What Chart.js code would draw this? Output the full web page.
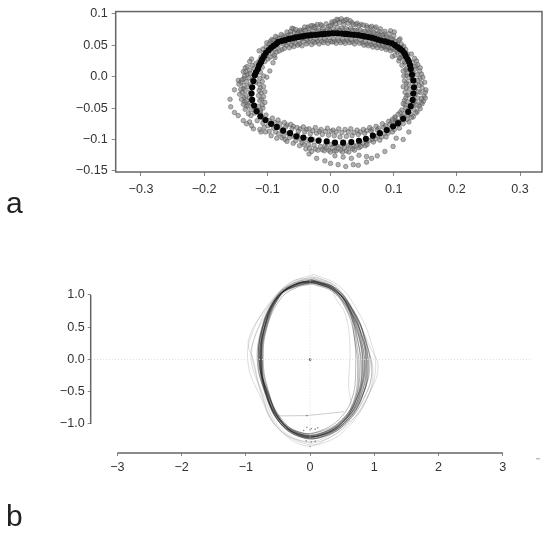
<!DOCTYPE html>
<html>
<head>
<meta charset="utf-8">
<script src="https://cdn.jsdelivr.net/npm/chart.js@4/dist/chart.umd.min.js"></script>
<style>
body { margin: 0; background: #fff; width: 550px; height: 539px; position: relative; overflow: hidden; }
canvas { position: absolute; left: 0; filter: blur(0.5px); }
#chartA { top: 0; }
#chartB { top: 250px; }
.letter { position: absolute; left: 6px; font: 30px "Liberation Sans", sans-serif; color: #222; line-height: 30px; }
</style>
</head>
<body>
<canvas id="chartA" width="550" height="220"></canvas>
<canvas id="chartB" width="550" height="289"></canvas>
<div class="letter" style="top:188px">a</div>
<div class="letter" style="top:501px">b</div>
<script>
// panel a ticks
const xTicksA = [-0.3, -0.2, -0.1, 0, 0.1, 0.2, 0.3];
const xLabelsA = ['\u22120.3', '\u22120.2', '\u22120.1', '0.0', '0.1', '0.2', '0.3'];
const yTicksA = [0.1, 0.05, 0, -0.05, -0.1, -0.15];
const yLabelsA = ['0.1', '0.05', '0.0', '\u22120.05', '\u22120.1', '\u22120.15'];

// panel a: mean outline (black dots)
const meanOutline = [
  [0.02,-0.105],[0.007,-0.105],[-0.006,-0.103],[-0.019,-0.102],[-0.031,-0.1],[-0.043,-0.097],[-0.054,-0.095],[-0.064,-0.09],
  [-0.075,-0.086],[-0.085,-0.08],[-0.094,-0.075],[-0.103,-0.069],[-0.111,-0.063],[-0.117,-0.055],[-0.121,-0.046],[-0.124,-0.037],
  [-0.125,-0.027],[-0.124,-0.017],[-0.122,-0.007],[-0.12,0.002],[-0.118,0.007],[-0.115,0.012],[-0.113,0.018],[-0.11,0.023],[-0.108,0.028],
  [-0.105,0.033],[-0.102,0.038],[-0.098,0.042],[-0.094,0.046],[-0.09,0.049],[-0.086,0.052],[-0.083,0.055],[-0.077,0.057],[-0.072,0.058],
  [-0.066,0.06],[-0.061,0.061],[-0.056,0.062],[-0.051,0.063],[-0.045,0.064],[-0.04,0.065],[-0.035,0.0655],[-0.03,0.066],[-0.024,0.0665],
  [-0.019,0.067],[-0.014,0.0675],[-0.009,0.068],[-0.003,0.0685],[0.002,0.069],[0.007,0.069],[0.012,0.069],[0.018,0.0685],[0.023,0.068],
  [0.028,0.0675],[0.033,0.067],[0.038,0.0665],[0.044,0.066],[0.049,0.065],[0.054,0.064],[0.06,0.063],[0.065,0.062],[0.07,0.0605],
  [0.075,0.059],[0.08,0.0575],[0.086,0.056],[0.091,0.0545],[0.097,0.053],[0.102,0.05],[0.106,0.047],[0.11,0.044],[0.114,0.041],[0.117,0.037],
  [0.119,0.033],[0.122,0.028],[0.124,0.024],[0.126,0.018],[0.127,0.012],[0.129,0.003],[0.131,-0.006],[0.132,-0.017],[0.131,-0.027],
  [0.13,-0.037],[0.127,-0.047],[0.123,-0.056],[0.115,-0.067],[0.107,-0.074],[0.099,-0.079],[0.089,-0.085],[0.078,-0.09],[0.067,-0.094],
  [0.056,-0.099],[0.045,-0.102],[0.033,-0.104]
];

// panel a: individual landmarks (grey dots), by region
const cloudTop = [
  [-0.112,0.02],[-0.11,0.031],[-0.113,0.041],[-0.104,0.024],[-0.106,0.037],[-0.102,0.047],[-0.101,0.054],[-0.096,0.031],[-0.097,0.052],[-0.093,0.059],
  [-0.089,0.034],[-0.088,0.044],[-0.09,0.058],[-0.087,0.064],[-0.081,0.041],[-0.083,0.049],[-0.08,0.061],[-0.078,0.067],[-0.073,0.045],[-0.075,0.052],
  [-0.071,0.063],[-0.069,0.071],[-0.065,0.046],[-0.067,0.054],[-0.063,0.067],[-0.061,0.077],[-0.058,0.048],[-0.06,0.056],[-0.057,0.07],[-0.055,0.075],
  [-0.052,0.05],[-0.05,0.057],[-0.053,0.068],[-0.048,0.074],[-0.045,0.049],[-0.043,0.056],[-0.046,0.071],[-0.041,0.079],[-0.038,0.052],[-0.037,0.059],
  [-0.04,0.073],[-0.034,0.077],[-0.031,0.081],[-0.03,0.051],[-0.032,0.06],[-0.028,0.073],[-0.025,0.054],[-0.023,0.06],[-0.026,0.078],[-0.021,0.083],
  [-0.018,0.052],[-0.016,0.061],[-0.019,0.074],[-0.014,0.081],[-0.011,0.054],[-0.009,0.06],[-0.012,0.077],[-0.007,0.084],[-0.004,0.053],[-0.002,0.062],
  [-0.005,0.075],[0,0.081],[0.002,0.087],[0.003,0.055],[0.005,0.06],[0.004,0.076],[0.008,0.084],[0.01,0.091],[0.009,0.053],[0.012,0.061],
  [0.011,0.078],[0.014,0.086],[0.017,0.092],[0.016,0.054],[0.019,0.06],[0.018,0.077],[0.021,0.083],[0.023,0.09],[0.023,0.053],[0.026,0.061],
  [0.025,0.076],[0.028,0.085],[0.031,0.089],[0.03,0.054],[0.033,0.059],[0.032,0.077],[0.036,0.083],[0.038,0.052],[0.04,0.06],[0.039,0.074],
  [0.042,0.085],[0.045,0.081],[0.046,0.053],[0.048,0.058],[0.047,0.074],[0.052,0.082],[0.053,0.05],[0.055,0.056],[0.054,0.072],[0.058,0.078],
  [0.06,0.049],[0.062,0.055],[0.061,0.07],[0.065,0.08],[0.067,0.047],[0.069,0.054],[0.068,0.07],[0.072,0.079],[0.074,0.046],[0.076,0.052],
  [0.075,0.068],[0.079,0.076],[0.081,0.045],[0.083,0.05],[0.082,0.066],[0.086,0.072],[0.088,0.043],[0.09,0.048],[0.089,0.063],[0.093,0.068],
  [0.095,0.041],[0.097,0.046],[0.096,0.06],[0.1,0.065],[0.102,0.034],[0.104,0.042],[0.103,0.056],[0.108,0.058],[0.109,0.03],[0.111,0.036],
  [0.112,0.052],[0.116,0.048],[0.117,0.024],[0.119,0.043]
];
const cloudTop2 = [
  [-0.108,0.026],[-0.107,0.044],[-0.099,0.028],[-0.099,0.041],[-0.095,0.056],[-0.092,0.037],[-0.091,0.05],[-0.085,0.039],[-0.085,0.056],[-0.084,0.062],
  [-0.077,0.043],[-0.077,0.055],[-0.075,0.065],[-0.07,0.05],[-0.068,0.058],[-0.067,0.066],[-0.062,0.05],[-0.063,0.072],[-0.056,0.053],[-0.055,0.064],
  [-0.059,0.076],[-0.049,0.052],[-0.048,0.066],[-0.051,0.072],[-0.044,0.06],[-0.043,0.074],[-0.036,0.055],[-0.035,0.07],[-0.036,0.079],[-0.028,0.056],
  [-0.029,0.069],[-0.028,0.081],[-0.021,0.056],[-0.021,0.072],[-0.024,0.08],[-0.014,0.056],[-0.013,0.072],[-0.016,0.083],[-0.007,0.057],[-0.008,0.072],
  [-0.003,0.08],[0,0.056],[-0.001,0.073],[0.003,0.084],[0.006,0.056],[0.007,0.072],[0.006,0.088],[0.013,0.057],[0.014,0.074],[0.012,0.09],
  [0.02,0.056],[0.02,0.074],[0.02,0.088],[0.027,0.057],[0.028,0.074],[0.026,0.091],[0.034,0.055],[0.035,0.074],[0.034,0.086],[0.041,0.056],
  [0.042,0.073],[0.04,0.083],[0.05,0.054],[0.05,0.071],[0.048,0.083],[0.057,0.052],[0.057,0.07],[0.057,0.081],[0.064,0.051],[0.064,0.071],
  [0.063,0.078],[0.071,0.05],[0.071,0.068],[0.07,0.077],[0.078,0.049],[0.078,0.066],[0.077,0.072],[0.085,0.047],[0.085,0.063],[0.085,0.068],
  [0.092,0.045],[0.092,0.061],[0.099,0.043],[0.099,0.059],[0.106,0.039],[0.106,0.053],[0.113,0.032],[0.113,0.047],[0.118,0.038]
];
const cloudRight = [
  [0.108,0.025],[0.118,0.031],[0.128,0.036],[0.133,0.029],[0.113,0.018],[0.121,0.014],[0.13,0.022],[0.138,0.019],[0.115,0.009],[0.122,0.006],
  [0.134,0.012],[0.141,0.009],[0.116,0.001],[0.124,-0.002],[0.137,0.003],[0.146,-0.001],[0.117,-0.007],[0.124,-0.012],[0.138,-0.006],[0.149,-0.009],
  [0.115,-0.016],[0.125,-0.02],[0.14,-0.014],[0.151,-0.021],[0.145,-0.018],[0.118,-0.025],[0.124,-0.029],[0.139,-0.024],[0.148,-0.031],[0.119,-0.034],
  [0.122,-0.04],[0.138,-0.034],[0.15,-0.034],[0.143,-0.041],[0.115,-0.043],[0.119,-0.05],[0.136,-0.045],[0.145,-0.043],[0.113,-0.053],[0.117,-0.059],
  [0.132,-0.052],[0.142,-0.051],[0.107,-0.06],[0.114,-0.064],[0.127,-0.06],[0.135,-0.058],[0.098,-0.068],[0.106,-0.071],[0.121,-0.068],[0.128,-0.065]
];
const cloudRight2 = [
  [0.11,0.029],[0.122,0.036],[0.136,0.025],[0.118,0.022],[0.127,0.017],[0.135,0.016],[0.142,0.014],[0.119,0.011],[0.128,0.008],[0.131,0.005],
  [0.144,0.004],[0.12,0.002],[0.129,-0.003],[0.142,-0.003],[0.12,-0.01],[0.135,-0.011],[0.144,-0.011],[0.12,-0.018],[0.134,-0.02],[0.142,-0.025],
  [0.15,-0.025],[0.121,-0.03],[0.134,-0.028],[0.144,-0.035],[0.117,-0.038],[0.134,-0.04],[0.147,-0.039],[0.118,-0.045],[0.131,-0.044],[0.14,-0.047],
  [0.123,-0.053],[0.137,-0.056],[0.11,-0.057],[0.122,-0.061],[0.131,-0.064],[0.102,-0.064],[0.113,-0.068],[0.124,-0.072]
];
const cloudBottom = [
  [-0.111,-0.057],[-0.107,-0.074],[-0.112,-0.084],[-0.102,-0.061],[-0.099,-0.078],[-0.103,-0.088],[-0.092,-0.066],[-0.09,-0.082],[-0.094,-0.094],[-0.083,-0.069],
  [-0.08,-0.075],[-0.082,-0.091],[-0.085,-0.098],[-0.073,-0.073],[-0.071,-0.08],[-0.074,-0.094],[-0.069,-0.103],[-0.063,-0.076],[-0.061,-0.083],[-0.065,-0.097],
  [-0.059,-0.106],[-0.053,-0.081],[-0.051,-0.087],[-0.055,-0.102],[-0.049,-0.11],[-0.043,-0.08],[-0.041,-0.088],[-0.045,-0.105],[-0.039,-0.115],[-0.034,-0.083],
  [-0.032,-0.091],[-0.035,-0.108],[-0.03,-0.119],[-0.024,-0.081],[-0.022,-0.09],[-0.026,-0.109],[-0.02,-0.117],[-0.015,-0.084],[-0.013,-0.092],[-0.016,-0.111],
  [-0.01,-0.118],[-0.005,-0.082],[-0.003,-0.093],[-0.006,-0.113],[0,-0.12],[0.004,-0.085],[0.006,-0.094],[0.003,-0.113],[0.009,-0.118],[0.013,-0.083],
  [0.015,-0.096],[0.012,-0.114],[0.019,-0.12],[0.023,-0.084],[0.025,-0.095],[0.022,-0.113],[0.029,-0.12],[0.032,-0.083],[0.034,-0.094],[0.031,-0.112],
  [0.038,-0.117],[0.042,-0.085],[0.044,-0.092],[0.041,-0.11],[0.048,-0.111],[0.052,-0.084],[0.054,-0.09],[0.051,-0.106],[0.058,-0.108],[0.062,-0.081],
  [0.064,-0.087],[0.061,-0.102],[0.068,-0.104],[0.072,-0.079],[0.074,-0.085],[0.071,-0.099],[0.078,-0.101],[0.082,-0.075],[0.084,-0.081],[0.081,-0.096],
  [0.088,-0.096],[0.092,-0.071],[0.094,-0.076],[0.091,-0.09],[0.098,-0.088],[0.102,-0.066],[0.104,-0.072],[0.101,-0.084],[0.109,-0.082]
];
const cloudBottom2 = [
  [-0.108,-0.066],[-0.105,-0.081],[-0.097,-0.07],[-0.097,-0.087],[-0.088,-0.073],[-0.087,-0.088],[-0.078,-0.083],[-0.077,-0.097],[-0.069,-0.077],[-0.067,-0.09],
  [-0.072,-0.1],[-0.059,-0.079],[-0.058,-0.095],[-0.052,-0.093],[-0.048,-0.083],[-0.047,-0.1],[-0.042,-0.108],[-0.038,-0.084],[-0.038,-0.1],[-0.033,-0.114],
  [-0.028,-0.086],[-0.028,-0.1],[-0.024,-0.115],[-0.018,-0.087],[-0.018,-0.1],[-0.013,-0.116],[-0.008,-0.087],[-0.009,-0.11],[-0.003,-0.117],[0.001,-0.087],
  [0.001,-0.108],[0.006,-0.118],[0.009,-0.088],[0.01,-0.11],[0.016,-0.117],[0.018,-0.089],[0.018,-0.11],[0.025,-0.118],[0.028,-0.088],[0.028,-0.11],
  [0.035,-0.115],[0.037,-0.089],[0.037,-0.11],[0.045,-0.113],[0.047,-0.088],[0.046,-0.106],[0.055,-0.11],[0.057,-0.086],[0.057,-0.103],[0.065,-0.084],
  [0.066,-0.1],[0.075,-0.094],[0.076,-0.082],[0.085,-0.09],[0.087,-0.078],[0.095,-0.083],[0.097,-0.071],[0.106,-0.077],[0.113,-0.064],[0.115,-0.075]
];
const cloudLeft = [
  [-0.118,0.021],[-0.128,0.024],[-0.132,0.016],[-0.121,0.013],[-0.108,0.015],[-0.134,0.008],[-0.127,0.005],[-0.111,0.007],[-0.106,0.001],[-0.136,0.001],
  [-0.129,-0.002],[-0.112,-0.003],[-0.14,-0.005],[-0.133,-0.008],[-0.108,-0.008],[-0.113,-0.012],[-0.145,-0.012],[-0.137,-0.014],[-0.13,-0.016],[-0.106,-0.016],
  [-0.142,-0.02],[-0.135,-0.022],[-0.113,-0.022],[-0.104,-0.024],[-0.144,-0.028],[-0.134,-0.03],[-0.114,-0.03],[-0.106,-0.032],[-0.141,-0.036],[-0.133,-0.038],
  [-0.112,-0.038],[-0.104,-0.041],[-0.138,-0.044],[-0.13,-0.046],[-0.114,-0.047],[-0.107,-0.05],[-0.135,-0.052],[-0.126,-0.053],[-0.111,-0.054],[-0.13,-0.059]
];
const cloudLeft2 = [
  [-0.125,0.028],[-0.113,0.025],[-0.124,0.018],[-0.135,0.014],[-0.115,0.013],[-0.128,0.01],[-0.118,0.003],[-0.132,0.003],[-0.124,-0.005],[-0.137,-0.003],
  [-0.118,-0.009],[-0.142,-0.009],[-0.127,-0.013],[-0.111,-0.018],[-0.138,-0.019],[-0.127,-0.024],[-0.14,-0.025],[-0.11,-0.026],[-0.128,-0.034],[-0.137,-0.033],
  [-0.109,-0.036],[-0.128,-0.042],[-0.136,-0.04],[-0.108,-0.045],[-0.133,-0.047],[-0.119,-0.05],[-0.111,-0.06],[-0.12,-0.058],[-0.126,-0.062],[-0.116,-0.07],[-0.125,-0.078]
];
const cloudOutliers = [
  [-0.159,-0.036],[-0.158,-0.048],[-0.152,-0.021],[-0.146,-0.006],[-0.152,-0.057],[-0.146,-0.062],[-0.138,0.008],[-0.138,-0.07],[-0.133,-0.075],[-0.122,-0.083],
  [-0.11,-0.088],[-0.128,-0.072],[-0.088,0.03],[-0.091,0.022],[-0.096,0.009],[-0.101,-0.001],[-0.022,-0.13],[-0.009,-0.134],[0,-0.138],[0.012,-0.14],
  [0.024,-0.143],[0.036,-0.14],[0.044,-0.141],[0.057,-0.136],[0.065,-0.13],[0.074,-0.126],[0.086,-0.119],[0.099,-0.111],[0.104,-0.098],[0.115,-0.1],
  [0.124,-0.088],[0.007,-0.126],[0.02,-0.128],[0.033,-0.13],[0.045,-0.125],[0.057,-0.127],[-0.034,-0.123],[0.095,0.073],[0.101,0.071],[0.11,0.06],[0.098,0.032]
];

// panel b ticks
const xTicksB = [-3, -2, -1, 0, 1, 2, 3];
const xLabelsB = ['\u22123', '\u22122', '\u22121', '0', '1', '2', '3'];
const yTicksB = [1, 0.5, 0, -0.5, -1];
const yLabelsB = ['1.0', '0.5', '0.0', '\u22120.5', '\u22121.0'];

// panel b: individual outlines, traced by eye
const trace1 = [[0.05,1.22],[0.38,1.09],[0.62,0.78],[0.78,0.35],[0.85,-0.1],[0.76,-0.6],[0.52,-0.97],[0.2,-1.16],[-0.12,-1.19],[-0.45,-0.97],[-0.68,-0.48],[-0.78,0],[-0.72,0.5],[-0.5,0.98],[-0.22,1.16],[0.05,1.22]];
const trace2 = [[0.08,1.2],[0.4,1.06],[0.6,0.8],[0.72,0.38],[0.8,-0.12],[0.72,-0.62],[0.5,-0.95],[0.18,-1.14],[-0.14,-1.16],[-0.47,-0.94],[-0.7,-0.46],[-0.76,0.02],[-0.7,0.52],[-0.47,1],[-0.2,1.17],[0.08,1.2]];
const trace3 = [[0.02,1.24],[0.36,1.12],[0.65,0.76],[0.82,0.3],[0.88,-0.14],[0.78,-0.58],[0.55,-0.96],[0.22,-1.18],[-0.1,-1.2],[-0.43,-1],[-0.66,-0.5],[-0.8,-0.04],[-0.74,0.48],[-0.52,0.96],[-0.25,1.14],[0.02,1.24]];
const trace4 = [[0.1,1.18],[0.42,1.04],[0.66,0.72],[0.8,0.3],[0.84,-0.18],[0.7,-0.66],[0.48,-0.99],[0.16,-1.18],[-0.16,-1.18],[-0.49,-0.92],[-0.71,-0.44],[-0.74,0.04],[-0.69,0.54],[-0.45,1.02],[-0.16,1.15],[0.1,1.18]];
const trace5 = [[0,1.21],[0.34,1.1],[0.58,0.82],[0.75,0.42],[0.82,-0.06],[0.74,-0.56],[0.54,-0.93],[0.24,-1.13],[-0.08,-1.17],[-0.42,-0.99],[-0.65,-0.53],[-0.79,-0.06],[-0.75,0.46],[-0.54,0.94],[-0.26,1.15],[0,1.21]];
const trace6 = [[0.06,1.23],[0.39,1.08],[0.63,0.74],[0.84,0.28],[0.91,-0.16],[0.8,-0.6],[0.56,-0.99],[0.2,-1.2],[-0.12,-1.21],[-0.46,-0.99],[-0.69,-0.5],[-0.77,-0.02],[-0.71,0.48],[-0.49,0.99],[-0.21,1.18],[0.06,1.23]];
const trace7 = [[0.12,1.2],[0.41,1.07],[0.61,0.76],[0.69,0.34],[0.74,-0.14],[0.68,-0.64],[0.47,-0.96],[0.15,-1.12],[-0.17,-1.13],[-0.48,-0.95],[-0.72,-0.47],[-0.81,0.01],[-0.73,0.51],[-0.5,0.97],[-0.18,1.18],[0.12,1.2]];
const trace8 = [[0.03,1.19],[0.37,1.06],[0.64,0.79],[0.79,0.4],[0.87,-0.08],[0.77,-0.62],[0.53,-0.94],[0.21,-1.15],[-0.13,-1.18],[-0.44,-0.96],[-0.67,-0.49],[-0.75,-0.03],[-0.68,0.49],[-0.48,0.96],[-0.23,1.13],[0.03,1.19]];
const trace9 = [[0.07,1.25],[0.4,1.1],[0.67,0.75],[0.86,0.33],[0.93,-0.12],[0.81,-0.56],[0.57,-0.95],[0.25,-1.17],[-0.09,-1.22],[-0.45,-1.01],[-0.68,-0.52],[-0.79,-0.01],[-0.74,0.53],[-0.51,1],[-0.24,1.19],[0.07,1.25]];
const trace10 = [[0.04,1.17],[0.35,1.05],[0.56,0.78],[0.68,0.4],[0.71,-0.1],[0.66,-0.58],[0.46,-0.92],[0.17,-1.1],[-0.11,-1.14],[-0.46,-0.93],[-0.66,-0.45],[-0.73,0],[-0.67,0.5],[-0.46,0.94],[-0.2,1.12],[0.04,1.17]];
const trace11 = [[0.09,1.22],[0.43,1.08],[0.69,0.7],[0.87,0.26],[0.96,-0.2],[0.83,-0.62],[0.58,-0.97],[0.23,-1.19],[-0.14,-1.2],[-0.5,-0.95],[-0.7,-0.5],[-0.82,-0.06],[-0.76,0.46],[-0.53,0.95],[-0.22,1.17],[0.09,1.22]];
const trace12 = [[0.01,1.2],[0.33,1.09],[0.6,0.77],[0.76,0.36],[0.83,-0.15],[0.75,-0.6],[0.51,-0.98],[0.19,-1.17],[-0.15,-1.17],[-0.44,-0.98],[-0.69,-0.46],[-0.77,0.03],[-0.7,0.47],[-0.49,0.97],[-0.24,1.16],[0.01,1.2]];
const trace13 = [[0.06,1.21],[0.37,1.1],[0.61,0.8],[0.74,0.32],[0.78,-0.1],[0.71,-0.6],[0.49,-0.96],[0.2,-1.13],[-0.1,-1.15],[-0.45,-0.95],[-0.7,-0.5],[-0.77,-0.05],[-0.72,0.47],[-0.51,0.96],[-0.2,1.15],[0.06,1.21]];
const trace14 = [[0.03,1.23],[0.4,1.07],[0.63,0.76],[0.81,0.36],[0.89,-0.06],[0.79,-0.64],[0.54,-0.98],[0.22,-1.15],[-0.1,-1.18],[-0.47,-0.98],[-0.7,-0.45],[-0.76,-0.04],[-0.71,0.49],[-0.49,1.01],[-0.23,1.17],[0.03,1.23]];
const trace15 = [[0.08,1.21],[0.36,1.08],[0.59,0.74],[0.77,0.3],[0.81,-0.2],[0.73,-0.66],[0.5,-0.98],[0.17,-1.17],[-0.14,-1.19],[-0.44,-0.95],[-0.67,-0.44],[-0.75,0.02],[-0.73,0.52],[-0.48,0.98],[-0.19,1.18],[0.08,1.21]];
const trace16 = [[0.04,1.2],[0.41,1.05],[0.68,0.75],[0.83,0.38],[0.86,-0.14],[0.74,-0.58],[0.53,-0.95],[0.23,-1.16],[-0.11,-1.17],[-0.46,-0.96],[-0.69,-0.52],[-0.79,0.03],[-0.71,0.5],[-0.52,0.97],[-0.2,1.14],[0.04,1.2]];
const trace17 = [[0.07,1.19],[0.35,1.07],[0.62,0.72],[0.72,0.28],[0.76,-0.16],[0.7,-0.62],[0.5,-0.93],[0.19,-1.14],[-0.13,-1.16],[-0.43,-0.94],[-0.68,-0.47],[-0.76,-0.02],[-0.69,0.47],[-0.47,0.98],[-0.22,1.15],[0.07,1.19]];
const trace18 = [[0.02,1.22],[0.39,1.11],[0.66,0.78],[0.85,0.34],[0.9,-0.1],[0.82,-0.56],[0.55,-0.97],[0.21,-1.17],[-0.12,-1.18],[-0.48,-0.97],[-0.71,-0.49],[-0.78,-0.03],[-0.72,0.45],[-0.5,0.95],[-0.24,1.17],[0.02,1.22]];
// faint outer ones
const faint1 = [[0.06,1.32],[0.45,1.14],[0.76,0.72],[0.94,0.3],[1.02,-0.14],[0.88,-0.62],[0.6,-1.04],[0.25,-1.28],[-0.1,-1.3],[-0.52,-1.04],[-0.78,-0.56],[-0.96,-0.1],[-0.92,0.36],[-0.6,0.92],[-0.28,1.2],[0.06,1.32]];
const faint2 = [[0.1,1.28],[0.42,1.12],[0.72,0.66],[0.92,0.22],[1.06,-0.12],[0.9,-0.56],[0.62,-0.98],[0.28,-1.22],[-0.06,-1.34],[-0.48,-1.08],[-0.74,-0.6],[-0.88,-0.02],[-0.96,0.3],[-0.66,0.82],[-0.3,1.16],[0.1,1.28]];
const faint3 = [[0.02,1.27],[0.35,1.15],[0.38,0.98],[0.55,0.7],[0.62,0.2],[0.6,-0.4],[0.62,-0.82],[0.3,-1.18],[-0.14,-1.26],[-0.56,-1],[-0.76,-0.5],[-0.92,0.02],[-0.84,0.4],[-0.62,0.86],[-0.3,1.2],[0.02,1.27]];
const faint4 = [[0.04,1.29],[0.4,1.13],[0.7,0.72],[0.88,0.24],[0.98,-0.22],[0.84,-0.7],[0.56,-1.02],[0.22,-1.25],[-0.12,-1.27],[-0.5,-1.02],[-0.74,-0.52],[-0.86,-0.16],[-0.9,0.22],[-0.68,0.7],[-0.34,1.14],[0.04,1.29]];
const innerStray = [[-0.5,-0.875],[-0.05,-0.87],[0.53,-0.81]];
const originDot = [[0, 0]];
const bottomSpecks = [[-0.05,-1.05],[0.02,-1.07],[0.08,-1.08],[0.12,-1.06],[-0.1,-1.1],[0,-1.09],[-0.06,-1.26],[0.02,-1.28],[0.08,-1.27],[0,-1.35],[-0.05,-0.87]];
const zeroLineH = [[-3.41, 0], [3.45, 0]];
const zeroLineV = [[0, -1.35], [0, 1.465]];
const strayDash = [[3.52, -1.54], [3.58, -1.54]];

const tickFont = { family: '"Liberation Sans", sans-serif', size: 12.6 };
const toPoints = pairs => pairs.map(p => ({ x: p[0], y: p[1] }));

function dots(pairs) {
    return {
        data: toPoints(pairs),
        pointRadius: 2.3,
        borderWidth: 0.7,
        backgroundColor: 'rgba(125,125,125,0.6)',
        borderColor: 'rgba(70,70,70,0.6)',
        order: 2
    };
}

const frameA = {
    id: 'frameA',
    afterDraw(chart) {
        const a = chart.chartArea, c = chart.ctx;
        c.save();
        c.strokeStyle = '#666';
        c.lineWidth = 1.5;
        c.strokeRect(a.left, a.top, a.right - a.left, a.bottom - a.top);
        c.restore();
    }
};

new Chart(document.getElementById('chartA'), {
    type: 'scatter',
    data: {
        datasets: [
            dots(cloudTop), dots(cloudTop2), dots(cloudRight), dots(cloudRight2), dots(cloudBottom), dots(cloudBottom2), dots(cloudLeft), dots(cloudLeft2), dots(cloudOutliers),
            { data: toPoints(meanOutline), pointRadius: 3.1, borderWidth: 0, backgroundColor: '#050505', order: 1 }
        ]
    },
    options: {
        responsive: false,
        animation: false,
        layout: { padding: { top: 10.5, right: 8 } },
        plugins: { legend: { display: false }, tooltip: { enabled: false } },
        scales: {
            x: {
                min: -0.34, max: 0.3347,
                afterBuildTicks(s) { s.ticks = xTicksA.map(v => ({ value: v })); },
                afterFit(s) { s.height = 48; },
                grid: { drawOnChartArea: false, tickLength: 4, tickColor: '#888' },
                border: { display: false },
                ticks: { font: tickFont, color: '#333', padding: 6, maxRotation: 0, autoSkip: false, callback: (v, i) => xLabelsA[i] }
            },
            y: {
                min: -0.1517, max: 0.1035,
                afterBuildTicks(s) { s.ticks = yTicksA.map(v => ({ value: v })); },
                afterFit(s) { s.width = 115.7; },
                grid: { drawOnChartArea: false, tickLength: 4, tickColor: '#888' },
                border: { display: false },
                ticks: { font: tickFont, color: '#333', padding: 4, autoSkip: false, callback: (v, i) => yLabelsA[i] }
            }
        }
    },
    plugins: [frameA]
});

function trace(pairs, color) {
    return { data: toPoints(pairs), showLine: true, tension: 0.4, borderColor: color, borderWidth: 1, pointRadius: 0 };
}
function guide(pairs) {
    return { data: toPoints(pairs), showLine: true, borderColor: '#ddd', borderWidth: 1, borderDash: [1, 2], pointRadius: 0 };
}

// detached axis lines for panel b
const spinesB = {
    id: 'spinesB',
    afterDraw(chart) {
        const x = chart.scales.x, y = chart.scales.y, c = chart.ctx;
        c.save();
        c.strokeStyle = '#666';
        c.lineWidth = 1.5;
        c.beginPath();
        c.moveTo(x.left, y.getPixelForValue(1));
        c.lineTo(x.left, y.getPixelForValue(-1));
        c.moveTo(x.getPixelForValue(-3), y.bottom);
        c.lineTo(x.getPixelForValue(3), y.bottom);
        c.stroke();
        c.restore();
    }
};

const dark = 'rgba(25,25,25,0.3)';
const light = 'rgba(90,90,90,0.2)';

new Chart(document.getElementById('chartB'), {
    type: 'scatter',
    data: {
        datasets: [
            guide(zeroLineH), guide(zeroLineV),
            trace(faint1, light), trace(faint2, light), trace(faint3, light), trace(faint4, light),
            trace(trace1, dark), trace(trace2, dark), trace(trace3, dark), trace(trace4, dark), trace(trace5, dark), trace(trace6, dark),
            trace(trace7, dark), trace(trace8, dark), trace(trace9, dark), trace(trace10, dark), trace(trace11, dark), trace(trace12, dark),
            trace(trace13, dark), trace(trace14, dark), trace(trace15, dark), trace(trace16, dark), trace(trace17, dark), trace(trace18, dark),
            { data: toPoints(innerStray), showLine: true, borderColor: 'rgba(90,90,90,0.3)', borderWidth: 1, pointRadius: 0 },
            { data: toPoints(bottomSpecks), pointRadius: 0.8, borderWidth: 0, backgroundColor: 'rgba(60,60,60,0.6)' },
            { data: toPoints(originDot), pointRadius: 1.3, borderWidth: 0, backgroundColor: '#444' },
            { data: toPoints(strayDash), showLine: true, clip: false, borderColor: '#999', borderWidth: 1, pointRadius: 0 }
        ]
    },
    options: {
        responsive: false,
        animation: false,
        layout: { padding: { top: 15, right: 10 } },
        plugins: { legend: { display: false }, tooltip: { enabled: false } },
        scales: {
            x: {
                min: -3.416, max: 3.58,
                afterBuildTicks(s) { s.ticks = xTicksB.map(v => ({ value: v })); },
                afterFit(s) { s.height = 86; },
                grid: { drawOnChartArea: false, tickLength: 3, tickColor: '#888' },
                border: { display: false },
                ticks: { font: tickFont, color: '#333', padding: 4, maxRotation: 0, autoSkip: false, callback: (v, i) => xLabelsB[i] }
            },
            y: {
                min: -1.45, max: 1.465,
                afterBuildTicks(s) { s.ticks = yTicksB.map(v => ({ value: v })); },
                afterFit(s) { s.width = 90.7; },
                grid: { drawOnChartArea: false, tickLength: 3, tickColor: '#888' },
                border: { display: false },
                ticks: { font: tickFont, color: '#333', padding: 3, autoSkip: false, callback: (v, i) => yLabelsB[i] }
            }
        }
    },
    plugins: [spinesB]
});
</script>
</body>
</html>
